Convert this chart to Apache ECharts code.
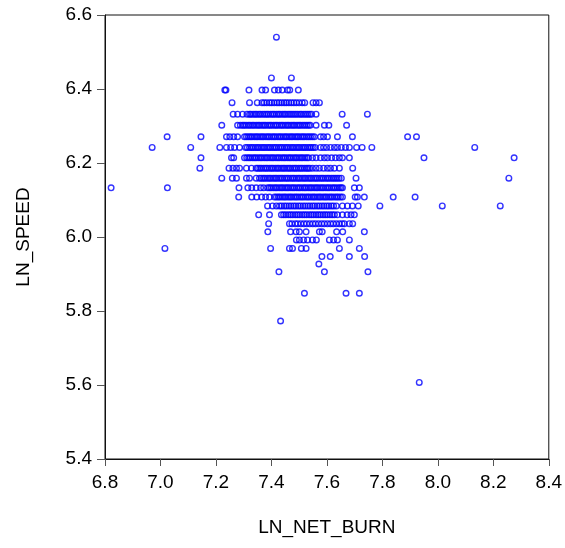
<!DOCTYPE html>
<html><head><meta charset="utf-8">
<script src="https://cdn.jsdelivr.net/npm/echarts@6/dist/echarts.min.js"></script>
<style>html,body{margin:0;padding:0;background:#fff}#c{width:565px;height:548px}</style>
</head><body><div id="c"></div>
<script>
// y rows (LN_SPEED levels)
const speedLevels = [6.540, 6.430, 6.397, 6.363, 6.332, 6.302, 6.271, 6.242, 6.214, 6.186, 6.159, 6.133, 6.108, 6.084, 6.060, 6.036, 6.014, 5.992, 5.969, 5.947, 5.927, 5.906, 5.848, 5.773, 5.607];

// LN_NET_BURN values on each row
const burn_r00 = [7.418];
const burn_r01 = [7.400, 7.472];
const burn_r02 = [7.232, 7.236, 7.319, 7.366, 7.379, 7.411, 7.425, 7.439, 7.458, 7.466, 7.497];
const burn_r03 = [7.258, 7.321, 7.349, 7.366, 7.374, 7.383, 7.393, 7.401, 7.410, 7.420, 7.428, 7.437, 7.446, 7.454, 7.463, 7.472, 7.481, 7.490, 7.500, 7.511, 7.520, 7.550, 7.561, 7.573];
const burn_r04 = [7.262, 7.278, 7.296, 7.312, 7.321, 7.326, 7.334, 7.341, 7.347, 7.355, 7.361, 7.369, 7.376, 7.383, 7.389, 7.397, 7.404, 7.410, 7.418, 7.425, 7.431, 7.439, 7.446, 7.452, 7.460, 7.467, 7.474, 7.481, 7.488, 7.495, 7.503, 7.509, 7.517, 7.524, 7.531, 7.538, 7.545, 7.561, 7.655, 7.746];
const burn_r05 = [7.221, 7.278, 7.288, 7.296, 7.302, 7.309, 7.317, 7.323, 7.331, 7.337, 7.345, 7.352, 7.358, 7.366, 7.373, 7.379, 7.387, 7.394, 7.400, 7.408, 7.415, 7.421, 7.429, 7.436, 7.442, 7.450, 7.457, 7.463, 7.471, 7.478, 7.484, 7.492, 7.499, 7.505, 7.513, 7.520, 7.527, 7.534, 7.540, 7.561, 7.591, 7.607, 7.671];
const burn_r06 = [7.024, 7.146, 7.238, 7.250, 7.264, 7.278, 7.303, 7.310, 7.317, 7.324, 7.330, 7.338, 7.345, 7.351, 7.359, 7.366, 7.372, 7.380, 7.387, 7.393, 7.401, 7.408, 7.414, 7.422, 7.429, 7.435, 7.443, 7.450, 7.456, 7.464, 7.471, 7.477, 7.485, 7.492, 7.498, 7.506, 7.513, 7.519, 7.527, 7.534, 7.541, 7.548, 7.555, 7.577, 7.588, 7.602, 7.638, 7.692, 7.891, 7.923];
const burn_r07 = [6.970, 7.109, 7.214, 7.238, 7.253, 7.267, 7.285, 7.307, 7.313, 7.321, 7.328, 7.334, 7.342, 7.349, 7.355, 7.363, 7.370, 7.376, 7.384, 7.391, 7.397, 7.405, 7.412, 7.418, 7.426, 7.433, 7.439, 7.447, 7.454, 7.460, 7.468, 7.475, 7.481, 7.489, 7.496, 7.502, 7.510, 7.517, 7.523, 7.531, 7.538, 7.544, 7.551, 7.558, 7.577, 7.588, 7.599, 7.613, 7.627, 7.638, 7.652, 7.667, 7.681, 7.707, 7.727, 7.762, 8.133];
const burn_r08 = [7.146, 7.256, 7.264, 7.303, 7.311, 7.318, 7.324, 7.332, 7.339, 7.345, 7.353, 7.360, 7.366, 7.374, 7.381, 7.387, 7.395, 7.402, 7.408, 7.416, 7.423, 7.429, 7.437, 7.444, 7.450, 7.458, 7.465, 7.471, 7.479, 7.486, 7.492, 7.500, 7.507, 7.513, 7.521, 7.528, 7.534, 7.548, 7.561, 7.577, 7.591, 7.602, 7.617, 7.631, 7.645, 7.656, 7.681, 7.950, 8.275];
const burn_r09 = [7.142, 7.247, 7.261, 7.274, 7.285, 7.310, 7.328, 7.345, 7.351, 7.358, 7.364, 7.372, 7.379, 7.385, 7.393, 7.400, 7.406, 7.414, 7.421, 7.427, 7.435, 7.442, 7.448, 7.456, 7.463, 7.469, 7.477, 7.484, 7.490, 7.498, 7.505, 7.511, 7.519, 7.526, 7.532, 7.538, 7.548, 7.561, 7.573, 7.588, 7.602, 7.613, 7.627, 7.645, 7.693];
const burn_r10 = [7.221, 7.259, 7.274, 7.310, 7.321, 7.345, 7.357, 7.364, 7.371, 7.377, 7.385, 7.392, 7.398, 7.406, 7.413, 7.419, 7.427, 7.434, 7.440, 7.448, 7.455, 7.461, 7.469, 7.476, 7.482, 7.490, 7.497, 7.503, 7.511, 7.518, 7.524, 7.532, 7.539, 7.545, 7.553, 7.560, 7.566, 7.574, 7.581, 7.587, 7.595, 7.602, 7.608, 7.616, 7.623, 7.630, 7.637, 7.644, 7.652, 7.705, 8.256];
const burn_r11 = [6.822, 7.025, 7.283, 7.315, 7.329, 7.345, 7.361, 7.372, 7.386, 7.393, 7.399, 7.407, 7.414, 7.420, 7.428, 7.435, 7.441, 7.449, 7.456, 7.462, 7.470, 7.477, 7.483, 7.491, 7.498, 7.504, 7.512, 7.519, 7.525, 7.533, 7.540, 7.546, 7.554, 7.561, 7.567, 7.575, 7.582, 7.588, 7.596, 7.603, 7.609, 7.617, 7.624, 7.630, 7.638, 7.645, 7.651, 7.656, 7.699, 7.717];
const burn_r12 = [7.282, 7.329, 7.347, 7.365, 7.379, 7.393, 7.411, 7.418, 7.425, 7.431, 7.439, 7.446, 7.452, 7.460, 7.467, 7.473, 7.481, 7.488, 7.494, 7.502, 7.509, 7.515, 7.523, 7.530, 7.536, 7.544, 7.551, 7.557, 7.565, 7.572, 7.578, 7.586, 7.593, 7.599, 7.607, 7.614, 7.620, 7.628, 7.635, 7.641, 7.649, 7.656, 7.702, 7.710, 7.735, 7.839, 7.918];
const burn_r13 = [7.386, 7.404, 7.418, 7.429, 7.437, 7.446, 7.454, 7.463, 7.471, 7.480, 7.488, 7.497, 7.505, 7.514, 7.522, 7.531, 7.539, 7.548, 7.556, 7.565, 7.573, 7.582, 7.590, 7.599, 7.607, 7.616, 7.624, 7.634, 7.656, 7.674, 7.692, 7.713, 7.791, 8.016, 8.225];
const burn_r14 = [7.354, 7.393, 7.436, 7.444, 7.452, 7.461, 7.469, 7.477, 7.486, 7.494, 7.502, 7.511, 7.519, 7.527, 7.536, 7.544, 7.552, 7.561, 7.569, 7.577, 7.586, 7.594, 7.602, 7.611, 7.619, 7.627, 7.638, 7.656, 7.673, 7.687, 7.699];
const burn_r15 = [7.390, 7.465, 7.474, 7.486, 7.495, 7.506, 7.517, 7.527, 7.538, 7.549, 7.559, 7.570, 7.581, 7.591, 7.602, 7.613, 7.623, 7.634, 7.645, 7.655, 7.663, 7.681, 7.693];
const burn_r16 = [7.387, 7.469, 7.489, 7.501, 7.525, 7.573, 7.583, 7.635, 7.657, 7.735];
const burn_r17 = [7.490, 7.501, 7.516, 7.530, 7.548, 7.562, 7.609, 7.624, 7.638, 7.681];
const burn_r18 = [7.016, 7.397, 7.465, 7.476, 7.508, 7.525, 7.645, 7.717];
const burn_r19 = [7.582, 7.612, 7.681, 7.736];
const burn_r20 = [7.571];
const burn_r21 = [7.427, 7.591, 7.748];
const burn_r22 = [7.519, 7.669, 7.717];
const burn_r23 = [7.433];
const burn_r24 = [7.933];

const burnRows = [burn_r00, burn_r01, burn_r02, burn_r03, burn_r04, burn_r05, burn_r06, burn_r07, burn_r08, burn_r09, burn_r10, burn_r11, burn_r12, burn_r13, burn_r14, burn_r15, burn_r16, burn_r17, burn_r18, burn_r19, burn_r20, burn_r21, burn_r22, burn_r23, burn_r24];

const xTitle = 'LN_NET_BURN';
const yTitle = 'LN_SPEED';

const points = [];
speedLevels.forEach((y, i) => burnRows[i].forEach(x => points.push([x, y])));

const FONT = '"Liberation Sans", Arial, sans-serif';
const chart = echarts.init(document.getElementById('c'), null, {renderer: 'canvas'});
chart.setOption({
  animation: false,
  backgroundColor: '#fff',
  grid: {left: 105, right: 15, top: 15, bottom: 89, show: true, borderColor: '#111', borderWidth: 1, backgroundColor: 'transparent'},
  xAxis: {
    type: 'value', min: 6.8, max: 8.4, interval: 0.2,
    name: xTitle, nameLocation: 'middle', nameGap: 59,
    nameTextStyle: {fontFamily: FONT, fontSize: 19, color: '#000'},
    axisLine: {show: true, onZero: false, lineStyle: {color: '#111', width: 1}},
    axisTick: {show: true, inside: false, length: 7, lineStyle: {color: '#555'}},
    axisLabel: {fontFamily: FONT, fontSize: 19, color: '#000', margin: 14, formatter: v => v.toFixed(1)},
    splitLine: {show: false}
  },
  yAxis: {
    type: 'value', min: 5.4, max: 6.6, interval: 0.2,
    name: yTitle, nameLocation: 'middle', nameGap: 72, nameRotate: 90,
    nameTextStyle: {fontFamily: FONT, fontSize: 19, color: '#000'},
    axisLine: {show: true, onZero: false, lineStyle: {color: '#111', width: 1}},
    axisTick: {show: true, inside: false, length: 8, lineStyle: {color: '#555'}},
    axisLabel: {fontFamily: FONT, fontSize: 19, color: '#000', margin: 13, formatter: v => v.toFixed(1)},
    splitLine: {show: false}
  },
  series: [{
    type: 'scatter',
    data: points,
    symbol: 'circle',
    symbolSize: 5.6,
    itemStyle: {color: 'rgba(0,0,0,0)', borderColor: '#0000ff', borderWidth: 1.4},
    emphasis: {disabled: true}
  }]
});
</script>
</body></html>
